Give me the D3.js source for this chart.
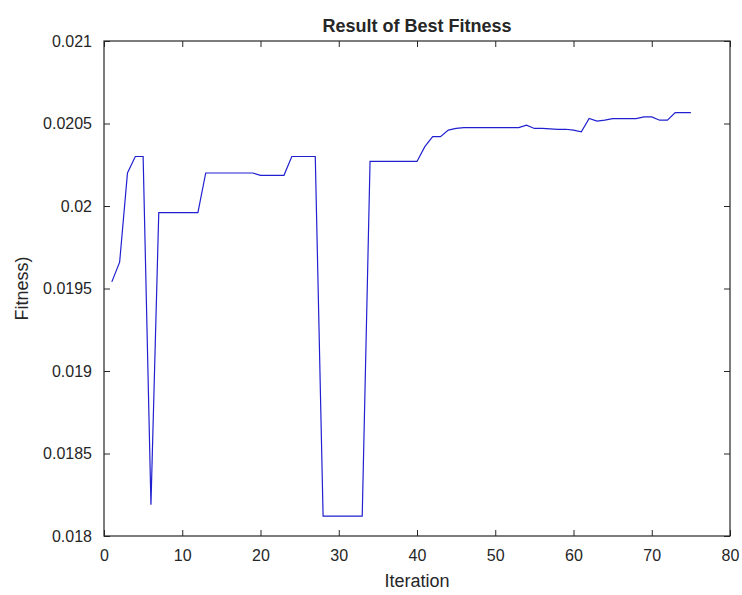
<!DOCTYPE html>
<html>
<head>
<meta charset="utf-8">
<script src="https://cdn.jsdelivr.net/npm/d3@7"></script>
<style>
  body { margin: 0; background: #fff; }
  text { font-family: "Liberation Sans", Arial, sans-serif; fill: #262626; }
</style>
</head>
<body>
<svg id="chart" width="742" height="595"></svg>
<script>
// Best fitness per iteration
const iterations = d3.range(1, 76);
const fitness = [
  0.01954, 0.01966, 0.02020, 0.02030, 0.02030, 0.01819, 0.01996, 0.01996, 0.01996, 0.01996,
  0.01996, 0.01996, 0.02020, 0.02020, 0.02020, 0.02020, 0.02020, 0.02020, 0.02020, 0.020186,
  0.020186, 0.020186, 0.020186, 0.02030, 0.02030, 0.02030, 0.02030, 0.01812, 0.01812, 0.01812,
  0.01812, 0.01812, 0.01812, 0.02027, 0.02027, 0.02027, 0.02027, 0.02027, 0.02027, 0.02027,
  0.02036, 0.02042, 0.02042, 0.02046, 0.02047, 0.020475, 0.020475, 0.020475, 0.020475, 0.020475,
  0.020475, 0.020475, 0.020475, 0.02049, 0.02047, 0.02047, 0.020468, 0.020465, 0.020465, 0.02046,
  0.02045, 0.02053, 0.020515, 0.02052, 0.02053, 0.02053, 0.02053, 0.02053, 0.02054, 0.02054,
  0.02052, 0.02052, 0.020566, 0.020566, 0.020566
];
const xTicks = [0, 10, 20, 30, 40, 50, 60, 70, 80];
const yTicks = [0.018, 0.0185, 0.019, 0.0195, 0.02, 0.0205, 0.021];
const titleText = "Result of Best Fitness";
const xLabel = "Iteration";
const yLabel = "Fitness)";

const margin = { top: 41, right: 12, bottom: 59, left: 104 };
const width = 742 - margin.left - margin.right;
const height = 595 - margin.top - margin.bottom;
const TICK = 6;

const svg = d3.select("#chart");
const g = svg.append("g").attr("transform", `translate(${margin.left},${margin.top})`);

const x = d3.scaleLinear().domain([0, 80]).range([0, width]);
const y = d3.scaleLinear().domain([0.018, 0.021]).range([height, 0]);

// axes: ticks point inward, as in the box-style original
const axisStyle = (sel) => {
  sel.selectAll(".domain").remove();
  sel.selectAll("line").attr("stroke", "#262626");
  sel.selectAll("text").style("font-size", "16px").attr("fill", "#262626");
};

g.append("g")
  .attr("transform", `translate(0,${height})`)
  .call(d3.axisBottom(x).tickValues(xTicks).tickSizeInner(-TICK).tickSizeOuter(0).tickPadding(14))
  .call(axisStyle);

g.append("g")
  .call(d3.axisTop(x).tickValues(xTicks).tickSizeInner(-TICK).tickSizeOuter(0).tickFormat(""))
  .call(axisStyle);

g.append("g")
  .call(d3.axisLeft(y).tickValues(yTicks).tickSizeInner(-TICK).tickSizeOuter(0).tickPadding(12)
    .tickFormat(d3.format("")))
  .call(axisStyle);

g.append("g")
  .attr("transform", `translate(${width},0)`)
  .call(d3.axisRight(y).tickValues(yTicks).tickSizeInner(-TICK).tickSizeOuter(0).tickFormat(""))
  .call(axisStyle);

// box
g.append("rect")
  .attr("width", width)
  .attr("height", height)
  .attr("fill", "none")
  .attr("stroke", "#262626")
  .attr("stroke-width", 1.2);

// the fitness line
const line = d3.line()
  .x((d, i) => x(iterations[i]))
  .y(d => y(d));

g.append("path")
  .datum(fitness)
  .attr("d", line)
  .attr("fill", "none")
  .attr("stroke", "#2020d0")
  .attr("stroke-width", 1.2);

// title and labels
svg.append("text")
  .attr("x", margin.left + width / 2)
  .attr("y", 32)
  .attr("text-anchor", "middle")
  .style("font-size", "18px")
  .style("font-weight", "bold")
  .attr("fill", "#000")
  .text(titleText);

svg.append("text")
  .attr("x", margin.left + width / 2)
  .attr("y", 587)
  .attr("text-anchor", "middle")
  .style("font-size", "18px")
  .text(xLabel);

svg.append("text")
  .attr("transform", `translate(28,${margin.top + height / 2}) rotate(-90)`)
  .attr("text-anchor", "middle")
  .style("font-size", "18px")
  .text(yLabel);
</script>
</body>
</html>
